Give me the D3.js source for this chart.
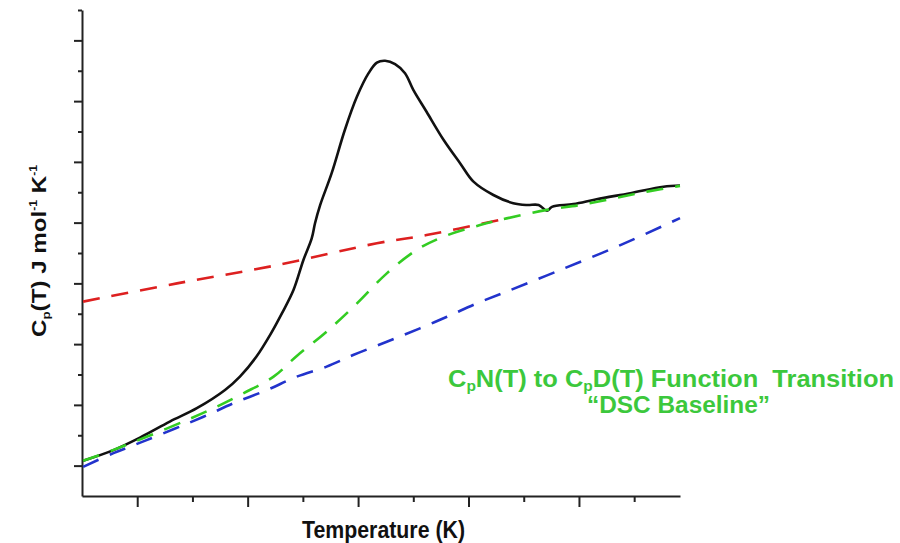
<!DOCTYPE html>
<html>
<head>
<meta charset="utf-8">
<script src="https://cdn.jsdelivr.net/npm/d3@7"></script>
<style>
  html, body { margin: 0; padding: 0; background: #fff; }
  svg { display: block; }
  text { font-family: "Liberation Sans", Arial, sans-serif; font-weight: bold; }
</style>
</head>
<body>
<svg id="chart" width="900" height="543"></svg>
<script>
// ---- data (axis units: x in tick steps, y in tick steps) ----
const xTickValues = [1, 2, 3, 4, 5, 6, 7, 8, 9, 10];
const yTickValues = [0, 1, 2, 3, 4, 5, 6, 7, 8, 9, 10, 11, 12, 13, 14, 15, 16];

const cpX = [0.02, 0.57, 1.08, 1.59, 2.08, 2.59, 2.86, 3.16, 3.41, 3.62, 3.83, 4.01, 4.16, 4.22, 4.31, 4.52, 4.76, 4.98, 5.19, 5.34, 5.49, 5.67, 5.85, 6.00, 6.24, 6.55, 6.85, 7.09, 7.45, 7.81, 8.06, 8.27, 8.42, 8.51, 8.90, 9.32, 9.93, 10.53, 10.83];
const cpY = [1.16, 1.51, 1.95, 2.45, 2.89, 3.49, 3.93, 4.59, 5.31, 6.01, 6.78, 7.77, 8.48, 8.98, 9.56, 10.62, 12.05, 13.15, 13.92, 14.27, 14.33, 14.22, 13.92, 13.37, 12.65, 11.72, 10.95, 10.35, 9.91, 9.64, 9.58, 9.58, 9.39, 9.52, 9.61, 9.77, 9.97, 10.18, 10.22];

const baselineX = [0.02, 0.56, 1.17, 1.90, 2.44, 2.92, 3.47, 3.89, 4.43, 4.98, 5.52, 6.06, 6.55, 7.21, 7.69, 8.42, 9.02, 9.63, 10.23, 10.83];
const baselineY = [1.16, 1.51, 1.95, 2.50, 2.94, 3.38, 3.93, 4.61, 5.41, 6.34, 7.33, 8.10, 8.54, 8.92, 9.14, 9.42, 9.58, 9.80, 10.02, 10.21];

const denatX = [0.02, 1.72, 3.53, 5.34, 6.24, 7.57];
const denatY = [6.40, 7.00, 7.60, 8.32, 8.59, 9.09];

const nativeX = [0.02, 0.57, 1.17, 2.20, 2.74, 3.35, 3.89, 4.43, 4.91, 5.52, 6.12, 6.61, 7.15, 7.69, 8.66, 9.75, 10.83];
const nativeY = [0.96, 1.41, 1.84, 2.61, 3.05, 3.49, 3.93, 4.26, 4.64, 5.08, 5.52, 5.90, 6.34, 6.73, 7.44, 8.26, 9.15];

const zip = (xs, ys) => xs.map((x, i) => [x, ys[i]]);

// ---- layout ----
const svg = d3.select("#chart");
const x = d3.scaleLinear().domain([0, 10.83]).range([82, 680]);
const y = d3.scaleLinear().domain([0, 16]).range([496, 10]);

// axes
const xAxis = svg.append("g")
  .attr("transform", `translate(0,${y(0)})`)
  .call(d3.axisBottom(x).tickValues(xTickValues).tickSize(5).tickSizeOuter(0).tickFormat(""));
xAxis.selectAll(".tick line").attr("y2", d => d % 2 === 1 ? 11 : 6);

const yAxis = svg.append("g")
  .attr("transform", `translate(${x(0)},0)`)
  .call(d3.axisLeft(y).tickValues(yTickValues).tickSize(4).tickSizeOuter(0).tickFormat(""));
yAxis.selectAll(".tick line").attr("x2", d => d % 2 === 1 ? -8 : (d === 0 ? 0 : -4));

svg.selectAll(".domain").attr("stroke", "#222").attr("stroke-width", 2);
svg.selectAll(".tick line").attr("stroke", "#222").attr("stroke-width", 2);

// lines
const line = d3.line().x(d => x(d[0])).y(d => y(d[1])).curve(d3.curveCatmullRom.alpha(0.5));

svg.append("path").datum(zip(cpX, cpY))
  .attr("d", line).attr("fill", "none").attr("stroke", "#111").attr("stroke-width", 2.6)
  .attr("stroke-linejoin", "round");

svg.append("path").datum(zip(denatX, denatY))
  .attr("d", line).attr("fill", "none").attr("stroke", "#dd2020").attr("stroke-width", 2.6)
  .attr("stroke-dasharray", "17,12");

svg.append("path").datum(zip(nativeX, nativeY))
  .attr("d", line).attr("fill", "none").attr("stroke", "#2233cc").attr("stroke-width", 2.6)
  .attr("stroke-dasharray", "17,12");

svg.append("path").datum(zip(baselineX, baselineY))
  .attr("d", line).attr("fill", "none").attr("stroke", "#33cc22").attr("stroke-width", 2.6)
  .attr("stroke-dasharray", "17,12");

// x label
svg.append("text")
  .attr("x", 302).attr("y", 538)
  .attr("font-size", 23)
  .attr("textLength", 163).attr("lengthAdjust", "spacingAndGlyphs")
  .attr("fill", "#111")
  .text("Temperature (K)");

// y label
const yl = svg.append("text")
  .attr("transform", "translate(46,337) rotate(-90)")
  .attr("font-size", 20)
  .attr("textLength", 172).attr("lengthAdjust", "spacingAndGlyphs")
  .attr("fill", "#111");
yl.append("tspan").text("C");
yl.append("tspan").attr("font-size", 11).attr("dy", 4).text("p");
yl.append("tspan").attr("dy", -4).text("(T) J mol");
yl.append("tspan").attr("font-size", 10).attr("dy", -9).text("-1");
yl.append("tspan").attr("dy", 9).text(" K");
yl.append("tspan").attr("font-size", 10).attr("dy", -9).text("-1");

// annotation
const green = "#3cc83c";
const t1 = svg.append("text")
  .attr("x", 448).attr("y", 387)
  .attr("font-size", 23)
  .attr("textLength", 446).attr("lengthAdjust", "spacingAndGlyphs")
  .attr("fill", green);
t1.append("tspan").text("C");
t1.append("tspan").attr("font-size", 14).attr("dy", 4).text("p");
t1.append("tspan").attr("dy", -4).text("N(T) to C");
t1.append("tspan").attr("font-size", 14).attr("dy", 4).text("p");
t1.append("tspan").attr("dy", -4).text("D(T) Function\u00a0 Transition");

svg.append("text")
  .attr("x", 587).attr("y", 413)
  .attr("font-size", 23)
  .attr("textLength", 183).attr("lengthAdjust", "spacingAndGlyphs")
  .attr("fill", green)
  .text("\u201cDSC Baseline\u201d");
</script>
</body>
</html>
